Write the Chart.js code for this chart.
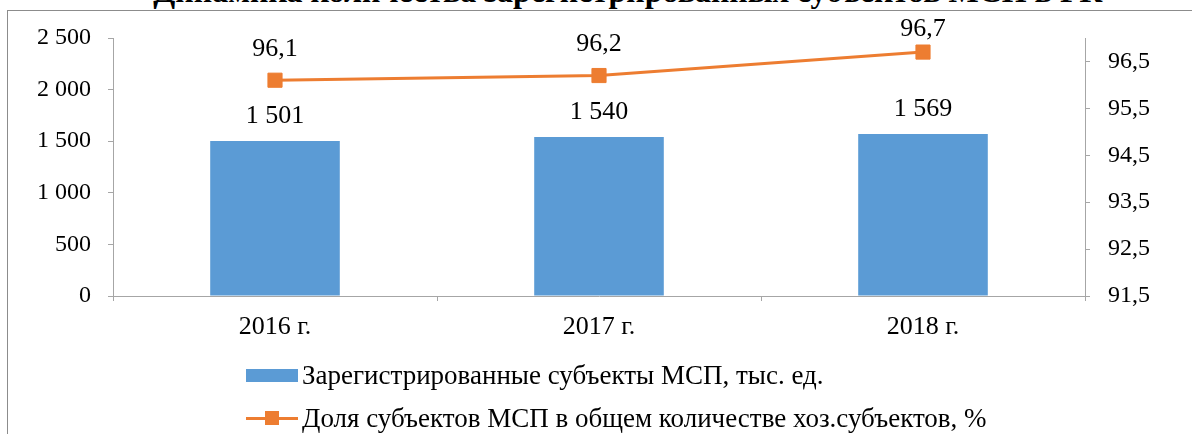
<!DOCTYPE html>
<html lang="ru">
<head>
<meta charset="utf-8">
<script src="https://cdn.jsdelivr.net/npm/chart.js@4/dist/chart.umd.min.js"></script>
<style>
    body { margin: 0; background: #fff; overflow: hidden; }
    .wrap { position: relative; width: 1192px; height: 434px; overflow: hidden; font-family: 'Liberation Serif', 'Times New Roman', serif; }
    .frame { position: absolute; left: 7px; top: 10px; width: 1400px; height: 600px; border: 1px solid #8c8c8c; }
    .title { position: absolute; left: 0; width: 1256px; top: -27px; text-align: center; font-weight: bold; font-size: 32px; white-space: nowrap; color: #000; }
    canvas { position: absolute; left: 0; top: 0; }
    .legend { position: absolute; left: 246px; top: 354px; font-size: 27px; color: #000; }
    .legend-item { display: flex; align-items: center; height: 43px; white-space: nowrap; }
    .legend-box { width: 52px; height: 13px; margin-right: 4px; }
    .legend-line { position: relative; width: 52px; height: 3px; margin-right: 4px; }
    .legend-line span { position: absolute; left: 19px; top: -6px; width: 14px; height: 14px; }
</style>
</head>
<body>
<div class="wrap">
    <div class="frame"></div>
    <div class="title">Динамика количества зарегистрированных субъектов МСП в РК</div>
    <canvas id="chart" width="1192" height="434"></canvas>
    <div class="legend" id="legend"></div>
</div>
<script>
// данные
const years = ['2016 г.', '2017 г.', '2018 г.'];
const registered = [1501, 1540, 1569];
const sharePercent = [96.1, 96.2, 96.7];

const leftTicks = [0, 500, 1000, 1500, 2000, 2500];
const rightTicks = [91.5, 92.5, 93.5, 94.5, 95.5, 96.5];

const registeredLabel = 'Зарегистрированные субъекты МСП, тыс. ед.';
const shareLabel = 'Доля субъектов МСП в общем количестве хоз.субъектов, %';

const BLUE = '#5b9bd5';
const ORANGE = '#ed7d31';
const AXIS = '#a6a6a6';
const FONT = "'Liberation Serif', 'Times New Roman', serif";

const fmtThousands = (v) => String(v).replace(/\B(?=(\d{3})+(?!\d))/g, ' ');
const fmtComma = (v) => v.toFixed(1).replace('.', ',');

// подписи значений над столбцами и точками
const valueLabels = {
    id: 'valueLabels',
    afterDatasetsDraw(chart) {
        const ctx = chart.ctx;
        ctx.save();
        ctx.fillStyle = '#000';
        ctx.textAlign = 'center';
        ctx.textBaseline = 'middle';
        ctx.font = `26px ${FONT}`;
        chart.getDatasetMeta(1).data.forEach((el, i) => {
            ctx.fillText(fmtThousands(registered[i]), el.x, el.y - 25);
        });
        chart.getDatasetMeta(0).data.forEach((el, i) => {
            const y = Math.max(el.y - 31, 29);
            ctx.fillText(fmtComma(sharePercent[i]), el.x, y);
        });
        ctx.restore();
    }
};

const chart = new Chart(document.getElementById('chart'), {
    data: {
        labels: years,
        datasets: [{
            type: 'line',
            label: shareLabel,
            data: sharePercent,
            yAxisID: 'y1',
            borderColor: ORANGE,
            backgroundColor: ORANGE,
            borderWidth: 3,
            pointStyle: 'rect',
            pointRadius: 10,
            pointBorderWidth: 1,
            tension: 0,
            order: 0
        }, {
            type: 'bar',
            label: registeredLabel,
            data: registered,
            yAxisID: 'y',
            backgroundColor: BLUE,
            categoryPercentage: 1,
            barPercentage: 0.4,
            order: 1
        }]
    },
    options: {
        responsive: false,
        animation: false,
        layout: { padding: { top: 38, left: 0, right: 0, bottom: 0 } },
        plugins: {
            legend: { display: false },
            tooltip: { enabled: false }
        },
        scales: {
            x: {
                grid: { offset: true, drawOnChartArea: false, color: AXIS, tickLength: 5 },
                border: { color: AXIS },
                ticks: { color: '#000', font: { family: FONT, size: 26 }, padding: 11 },
                afterFit(scale) { scale.height = 138; }
            },
            y: {
                position: 'left',
                min: 0,
                max: 2500,
                grid: { drawOnChartArea: false, color: AXIS, tickLength: 5 },
                border: { color: AXIS },
                ticks: { color: '#000', font: { family: FONT, size: 24 }, padding: 17, callback: fmtThousands },
                afterBuildTicks(scale) { scale.ticks = leftTicks.map(v => ({ value: v })); },
                afterFit(scale) { scale.width = 113; }
            },
            y1: {
                position: 'right',
                min: 91.5,
                max: 97,
                grid: { drawOnChartArea: false, color: AXIS, tickLength: 5 },
                border: { color: AXIS },
                ticks: { color: '#000', font: { family: FONT, size: 24 }, padding: 18, callback: fmtComma },
                afterBuildTicks(scale) { scale.ticks = rightTicks.map(v => ({ value: v })); },
                afterFit(scale) { scale.width = 107; }
            }
        }
    },
    plugins: [valueLabels]
});

// легенда столбиком, как в исходнике
const legend = document.getElementById('legend');
legend.innerHTML = `
    <div class="legend-item"><div class="legend-box" style="background:${BLUE}"></div>${registeredLabel}</div>
    <div class="legend-item"><div class="legend-line" style="background:${ORANGE}"><span style="background:${ORANGE}"></span></div>${shareLabel}</div>
`;
</script>
</body>
</html>
